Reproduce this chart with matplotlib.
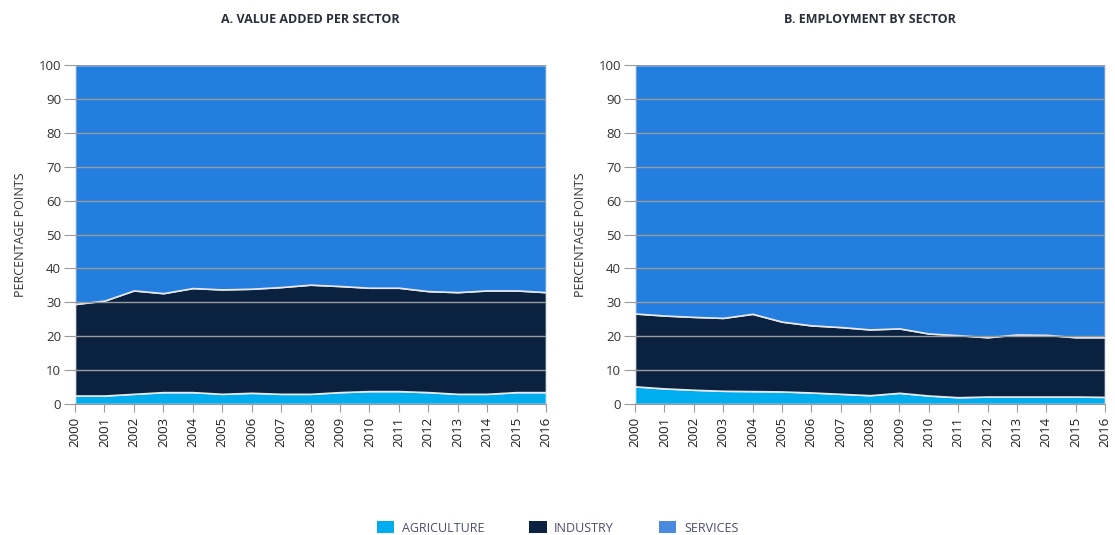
import numpy as np
import matplotlib.pyplot as plt
from matplotlib.patches import Patch

plt.rcParams['font.family'] = ['Open Sans', 'DejaVu Sans']

years = list(range(2000, 2017))

# Panel A: value added shares (%)
va_agriculture = [2.5, 2.5, 3.0, 3.5, 3.5, 3.0, 3.3, 3.0, 3.0, 3.5, 3.8, 3.8, 3.5, 3.0, 3.0, 3.5, 3.5]
va_industry = [27.0, 28.0, 30.5, 29.2, 30.7, 30.8, 30.7, 31.5, 32.2, 31.3, 30.5, 30.5, 29.8, 30.0, 30.5, 30.0, 29.5]

# Panel B: employment shares (%)
emp_agriculture = [5.2, 4.6, 4.2, 3.9, 3.8, 3.7, 3.4, 3.0, 2.6, 3.3, 2.5, 2.0, 2.2, 2.2, 2.2, 2.2, 2.1]
emp_industry = [21.5, 21.5, 21.5, 21.5, 22.8, 20.6, 19.8, 19.7, 19.4, 19.0, 18.3, 18.3, 17.5, 18.3, 18.2, 17.5, 17.6]

titles = ['A. VALUE ADDED PER SECTOR', 'B. EMPLOYMENT BY SECTOR']
sectors = ['AGRICULTURE', 'INDUSTRY', 'SERVICES']
colors = ['#00AEEF', '#0A2240', '#237EDF']
legend_colors = ['#00AEEF', '#0A2240', '#4A8BE0']

fig = plt.figure(figsize=(11.15, 5.35), dpi=100)
W, H = 1115, 535
ax_a = fig.add_axes([75 / W, 1 - 404 / H, (546 - 75) / W, (404 - 65) / H])
ax_b = fig.add_axes([635 / W, 1 - 404 / H, (1105 - 635) / W, (404 - 65) / H])

panels = [(ax_a, va_agriculture, va_industry), (ax_b, emp_agriculture, emp_industry)]
for i, (ax, agri, ind) in enumerate(panels):
    agri = np.array(agri)
    ind = np.array(ind)
    serv = 100 - agri - ind
    ax.stackplot(years, agri, ind, serv, colors=colors,
                 edgecolor='#E8E8EE', linewidth=1.2)
    ax.set_xlim(2000, 2016)
    ax.set_ylim(0, 100)
    ax.set_yticks(range(0, 101, 10))
    ax.set_xticks(years)
    ax.set_xticklabels([str(y) for y in years], rotation=90)
    ax.grid(axis='y', color='#9A9A9A', linewidth=1)
    ax.set_axisbelow(False)
    for s in ['top', 'right', 'left']:
        ax.spines[s].set_visible(False)
    ax.spines['bottom'].set_color('#9A9A9A')
    ax.tick_params(axis='y', length=8, color='#9A9A9A', labelsize=9.5,
                   labelcolor='#333333', pad=2)
    ax.tick_params(axis='x', length=6, color='#9A9A9A', labelsize=9.5,
                   labelcolor='#222222', pad=3)
    ax.set_ylabel('PERCENTAGE POINTS', fontsize=9, color='#333333', labelpad=8)
    ax.set_title(titles[i], fontsize=9, fontweight='bold', color='#2A2F3A', pad=30)

handles = [Patch(facecolor=c, edgecolor='none') for c in legend_colors]
fig.legend(handles, sectors, loc='center', bbox_to_anchor=(0.5, 1 - 528 / H),
           ncol=3, frameon=False, fontsize=9, columnspacing=3.6,
           handlelength=1.4, handleheight=1.1, handletextpad=0.6,
           labelcolor='#4A4F6A')

fig.savefig('out.png', dpi=100)
